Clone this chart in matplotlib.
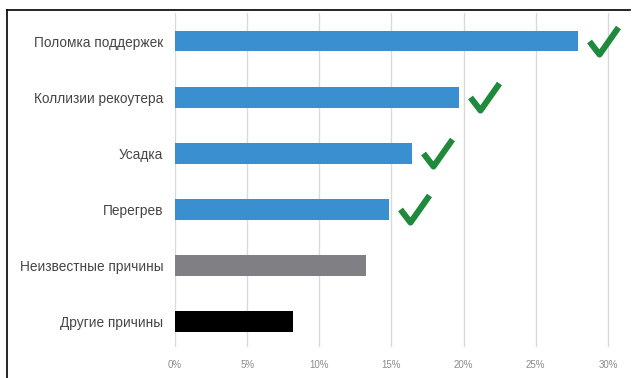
import matplotlib.pyplot as plt
from matplotlib.lines import Line2D
from matplotlib.path import Path
from matplotlib.markers import MarkerStyle

categories = ["Поломка поддержек", "Коллизии рекоутера", "Усадка", "Перегрев",
              "Неизвестные причины", "Другие причины"]
values = [27.9, 19.7, 16.4, 14.8, 13.2, 8.2]
checked = [True, True, True, True, False, False]
colours = ["#3a8fd0", "#3a8fd0", "#3a8fd0", "#3a8fd0", "#7f7f84", "#000000"]
ticks = [0, 5, 10, 15, 20, 25, 30]
tick_labels = ["0%", "5%", "10%", "15%", "20%", "25%", "30%"]

plt.rcParams['font.family'] = ['Liberation Sans', 'DejaVu Sans']

fig = plt.figure(figsize=(6.37, 3.78), dpi=100)
ax = fig.add_axes([175 / 637, 1 - 347 / 378, 447.4 / 637, 334 / 378])

y = list(range(len(categories)))
ax.barh(y, values, height=0.37, color=colours, zorder=2)

# check mark drawn as a custom marker anchored at the bar end (pixel offsets)
tick_path = Path([(11, 0), (21, -13), (40, 14)],
                 [Path.MOVETO, Path.LINETO, Path.LINETO])
tick_marker = MarkerStyle(tick_path)
for i, (v, c) in enumerate(zip(values, checked)):
    if c:
        ax.plot(v, i, marker=tick_marker, markersize=57.6, markerfacecolor="none",
                markeredgecolor="#1f8a3b", markeredgewidth=4.4, zorder=3,
                clip_on=False)

ax.set_xlim(0, 31)
ax.set_ylim(5.45, -0.5)
ax.set_xticks(ticks)
ax.set_xticklabels(tick_labels, fontsize=7, color="#8c8c8c")
ax.set_yticks(y)
ax.set_yticklabels(categories, fontsize=9.8, color="#454545")
ax.tick_params(axis="x", length=0, pad=9)
ax.tick_params(axis="y", length=0, pad=8.5)
ax.grid(axis="x", color="#d9d9d9", linewidth=1, zorder=0)
for s in ax.spines.values():
    s.set_visible(False)

# outer frame (top and left edges)
fig.add_artist(Line2D([7 / 637, 630 / 637], [1 - 10 / 378, 1 - 10 / 378], color="black", linewidth=1.2))
fig.add_artist(Line2D([7 / 637, 7 / 637], [0, 1 - 10 / 378], color="black", linewidth=1.2))

fig.savefig("out.png", dpi=100)
